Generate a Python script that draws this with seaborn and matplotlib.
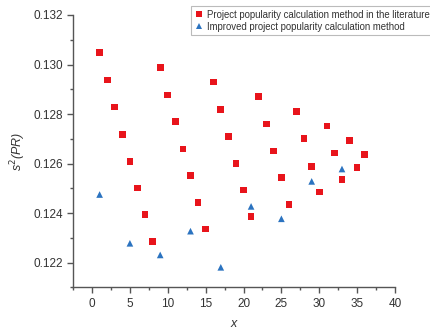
import matplotlib
matplotlib.use("Agg")
import matplotlib.pyplot as plt
import seaborn as sns
import pandas as pd
from matplotlib.ticker import MultipleLocator

sns.set_theme(style="ticks")
plt.rcParams['font.family'] = ['Liberation Sans', 'DejaVu Sans']

red_x = list(range(1, 37))
red_y = [0.13049, 0.12938, 0.12828, 0.12718, 0.12609, 0.12501, 0.12393, 0.12286,
         0.12989, 0.12877, 0.12770, 0.12659, 0.12551, 0.12443, 0.12336,
         0.12930, 0.12819, 0.12710, 0.12601, 0.12493, 0.12386,
         0.12871, 0.12760, 0.12651, 0.12543, 0.12435,
         0.12811, 0.12702, 0.12589, 0.12485,
         0.12752, 0.12643, 0.12535,
         0.12693, 0.12583,
         0.12636]
blue_x = [1, 5, 9, 13, 17, 21, 25, 29, 33]
blue_y = [0.12475, 0.12278, 0.12231, 0.12327, 0.12181, 0.12427, 0.12377, 0.12528, 0.12578]

label_red = "Project popularity calculation method in the literature"
label_blue = "Improved project popularity calculation method"

df = pd.concat([
    pd.DataFrame({"x": red_x, "y": red_y, "method": label_red}),
    pd.DataFrame({"x": blue_x, "y": blue_y, "method": label_blue}),
])

fig = plt.figure(figsize=(4.30, 3.33), dpi=100)
ax = fig.add_axes([0.170, 0.137, 0.7486, 0.818])

sns.scatterplot(data=df, x="x", y="y", hue="method", style="method",
                markers={label_red: "s", label_blue: "^"},
                palette={label_red: "#E8141B", label_blue: "#2B73C0"},
                s=23, linewidth=0, ax=ax)

ax.set_xlim(-2.5, 40)
ax.set_ylim(0.121, 0.132)
ax.xaxis.set_major_locator(MultipleLocator(5))
ax.xaxis.set_minor_locator(MultipleLocator(2.5))
ax.yaxis.set_major_locator(MultipleLocator(0.002))
ax.yaxis.set_minor_locator(MultipleLocator(0.001))
ax.yaxis.set_major_formatter(matplotlib.ticker.FormatStrFormatter('%.3f'))

for s in ["top", "right"]:
    ax.spines[s].set_visible(False)
for s in ["left", "bottom"]:
    ax.spines[s].set_color("#555555")
    ax.spines[s].set_linewidth(1.0)
ax.tick_params(which="major", direction="out", length=4, width=1, color="#555555",
               labelsize=8.5, labelcolor="#333333")
ax.tick_params(which="minor", direction="out", length=2.5, width=1, color="#555555")

ax.set_xlabel("x", fontsize=9, style="italic", color="#333333", labelpad=6)
ax.set_ylabel("s$^2$(PR)", fontsize=9, style="italic", color="#333333", labelpad=4)

leg = ax.legend(loc="upper left", fontsize=6.9, frameon=True, fancybox=False,
                edgecolor="#aaaaaa", handletextpad=0.3, borderpad=0.4,
                labelspacing=0.2, markerscale=0.8, handlelength=1.0)
leg.set_bbox_to_anchor((186 / 430, 1 - 1 / 333), transform=fig.transFigure)
leg.get_frame().set_linewidth(0.8)
for t in leg.get_texts():
    t.set_color("#333333")

fig.savefig("out.png", dpi=100)
